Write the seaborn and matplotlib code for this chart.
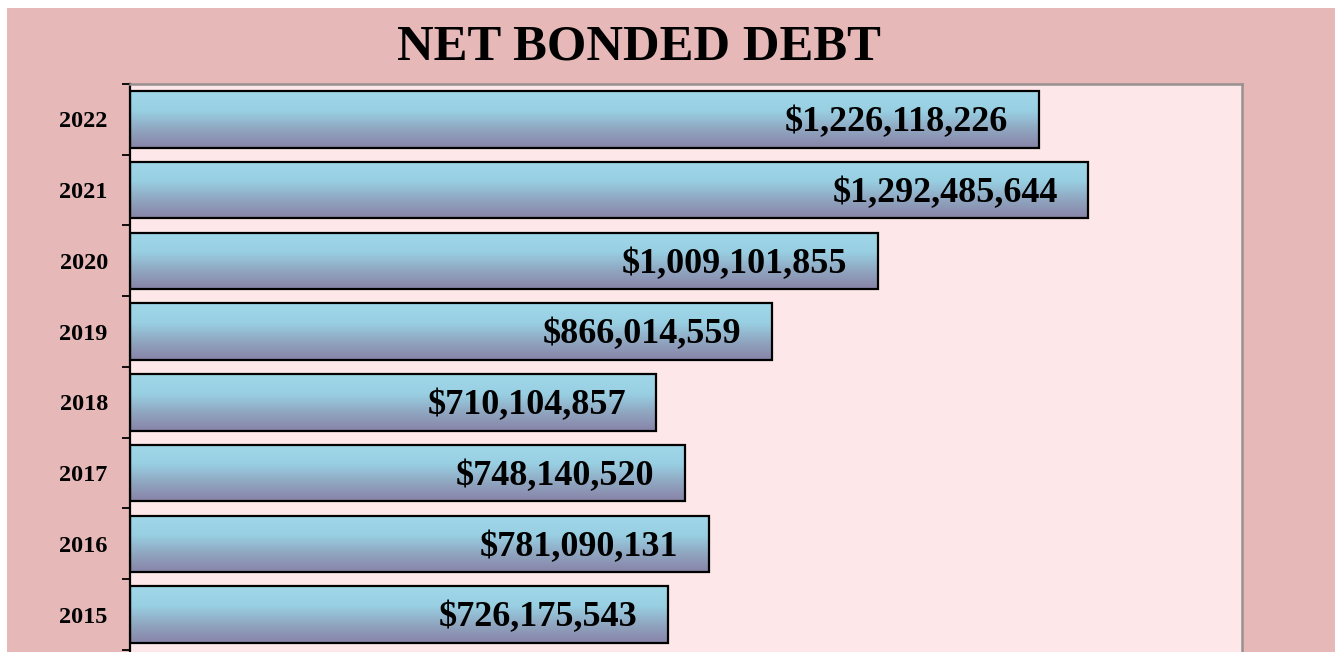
import numpy as np
import pandas as pd
import matplotlib
matplotlib.use("Agg")
import matplotlib.pyplot as plt
from matplotlib.patches import Rectangle
from matplotlib.colors import LinearSegmentedColormap
import seaborn as sns

# Net bonded debt by fiscal year (top to bottom)
years = ["2022", "2021", "2020", "2019", "2018", "2017", "2016", "2015"]
debt = [1226118226, 1292485644, 1009101855, 866014559,
        710104857, 748140520, 781090131, 726175543]
title = "NET BONDED DEBT"

OUTER = "#E6B8B8"
INNER = "#FDE7E8"
SERIF = ["Liberation Serif", "DejaVu Serif"]

sns.set_theme(style="white")
plt.rcParams["font.family"] = SERIF

W, H = 1335, 652
fig = plt.figure(figsize=(W / 100, H / 100), dpi=100, facecolor="white")
# pink panel behind the chart
fig.patches.append(Rectangle((7 / W, 0), 1, 1 - 8 / H, transform=fig.transFigure,
                             facecolor=OUTER, edgecolor="none", zorder=-10))

left, right, top, bottom_px = 130, 1242, 84, 660
ax = fig.add_axes([left / W, 1 - bottom_px / H, (right - left) / W, (bottom_px - top) / H])
ax.set_zorder(1)
ax.set_facecolor(INNER)

df = pd.DataFrame({"year": years, "debt": debt})
sns.barplot(data=df, x="debt", y="year", orient="h", order=years,
            color="#9BD5E6", width=0.8, edgecolor="black", linewidth=1.6, ax=ax)

# vertical blue-to-lavender gradient inside each bar
grad = LinearSegmentedColormap.from_list(
    "bar", [(0.0, "#A0D8EA"), (0.35, "#98CFE2"), (0.7, "#8FA3BE"), (1.0, "#8883A8")])
g = np.linspace(0, 1, 256).reshape(-1, 1)
for p in ax.patches:
    x0, y0 = p.get_x(), p.get_y()
    w, h = p.get_width(), p.get_height()
    im = ax.imshow(g, cmap=grad, aspect="auto", extent=(x0, x0 + w, y0 + h, y0),
                   origin="upper", zorder=2, interpolation="bilinear")
    im.set_clip_path(p)
    p.set_facecolor("none")
    p.set_zorder(3)

# value labels inside the bar ends
for i, v in enumerate(debt):
    ax.annotate(f"${v:,}", xy=(v, i), xytext=(-22, -2.5), textcoords="offset points",
                ha="right", va="center", fontsize=26, fontweight="bold",
                color="black", family=SERIF, zorder=4)

ax.set_xlim(0, 1.5e9)
ax.set_ylim(7.5 + 10 / 70.7, -0.5)
ax.set_xlabel("")
ax.set_ylabel("")
ax.set_xticks([])

# category labels at bar centres, tick marks on the boundaries
ax.set_yticks(range(len(years)))
ax.set_yticklabels(years, fontsize=17.5, fontweight="bold", family=SERIF)
ax.tick_params(axis="y", which="major", length=0, pad=16, colors="black")
ax.set_yticks(np.arange(-0.5, len(years)), minor=True)
ax.tick_params(axis="y", which="minor", length=6, width=1.3, color="black", left=True)

for s in ["top", "right"]:
    ax.spines[s].set_color("#9A9090")
    ax.spines[s].set_linewidth(1.8)
ax.spines["left"].set_color("black")
ax.spines["left"].set_linewidth(1.6)
ax.spines["bottom"].set_visible(False)

fig.text(639 / W, 1 - 47 / H, title, ha="center", va="center",
         fontsize=36.5, fontweight="bold", family=SERIF, color="black")

fig.savefig("out.png", dpi=100, facecolor="white")
